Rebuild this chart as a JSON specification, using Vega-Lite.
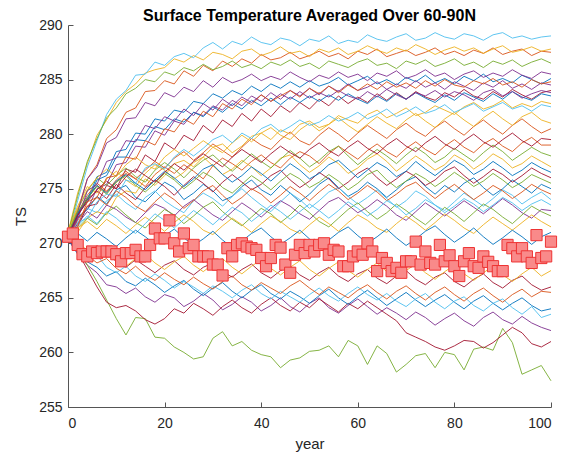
{
"$schema":"https://vega.github.io/schema/vega-lite/v6.json",
"width":483,"height":382,
"autosize":{"type":"none"},
"padding":{"left":68,"top":25,"right":25,"bottom":49},
"title":{"text":"Surface Temperature Averaged Over 60-90N","font":"Liberation Sans","fontSize":16,"fontWeight":"bold","color":"#000000","anchor":"middle","offset":-6},
"config":{"view":{"stroke":null},"axis":{"labelFont":"Liberation Sans","labelFontSize":14,"labelColor":"#262626","titleFont":"Liberation Sans","titleFontSize":15,"titleFontWeight":"normal","titleColor":"#262626","domainColor":"#555555","tickColor":"#555555","grid":false}},
"datasets":{
"mean":[{"x":0,"y":270.6},{"x":1,"y":270.9},{"x":2,"y":269.85},{"x":3,"y":269.0},{"x":4,"y":268.8},{"x":5,"y":269.25},{"x":6,"y":269.1},{"x":7,"y":269.25},{"x":8,"y":269.25},{"x":9,"y":269.25},{"x":10,"y":269.0},{"x":11,"y":268.35},{"x":12,"y":269.1},{"x":13,"y":269.1},{"x":14,"y":269.4},{"x":15,"y":268.8},{"x":16,"y":268.8},{"x":17,"y":269.85},{"x":18,"y":271.35},{"x":19,"y":270.45},{"x":20,"y":270.45},{"x":21,"y":272.1},{"x":22,"y":270.0},{"x":23,"y":269.25},{"x":24,"y":270.9},{"x":25,"y":269.55},{"x":26,"y":269.85},{"x":27,"y":268.8},{"x":28,"y":268.8},{"x":29,"y":268.8},{"x":30,"y":268.05},{"x":31,"y":268.05},{"x":32,"y":267.05},{"x":33,"y":269.55},{"x":34,"y":268.8},{"x":35,"y":269.85},{"x":36,"y":270.0},{"x":37,"y":269.7},{"x":38,"y":269.55},{"x":39,"y":269.4},{"x":40,"y":268.65},{"x":41,"y":267.9},{"x":42,"y":268.65},{"x":43,"y":269.85},{"x":44,"y":269.6},{"x":45,"y":268.05},{"x":46,"y":267.3},{"x":47,"y":268.95},{"x":48,"y":269.85},{"x":49,"y":269.1},{"x":50,"y":269.85},{"x":51,"y":269.25},{"x":52,"y":269.85},{"x":53,"y":270.0},{"x":54,"y":268.95},{"x":55,"y":269.4},{"x":56,"y":269.25},{"x":57,"y":267.9},{"x":58,"y":267.9},{"x":59,"y":268.8},{"x":60,"y":269.25},{"x":61,"y":268.95},{"x":62,"y":270.0},{"x":63,"y":269.25},{"x":64,"y":267.45},{"x":65,"y":268.65},{"x":66,"y":268.2},{"x":67,"y":267.45},{"x":68,"y":267.75},{"x":69,"y":267.3},{"x":70,"y":268.35},{"x":71,"y":268.35},{"x":72,"y":270.15},{"x":73,"y":268.05},{"x":74,"y":269.25},{"x":75,"y":268.2},{"x":76,"y":268.05},{"x":77,"y":269.85},{"x":78,"y":268.35},{"x":79,"y":268.9},{"x":80,"y":267.9},{"x":81,"y":267.0},{"x":82,"y":268.35},{"x":83,"y":269.1},{"x":84,"y":267.9},{"x":85,"y":267.75},{"x":86,"y":268.8},{"x":87,"y":268.3},{"x":88,"y":267.9},{"x":89,"y":267.45},{"x":90,"y":267.45},{"x":91,"y":269.85},{"x":92,"y":269.55},{"x":93,"y":268.8},{"x":94,"y":269.55},{"x":95,"y":268.8},{"x":96,"y":268.2},{"x":97,"y":270.75},{"x":98,"y":268.65},{"x":99,"y":268.8},{"x":100,"y":270.15}],
"runs":[
{"m":0,"x":0,"y":270.5},{"m":0,"x":2,"y":272.4},{"m":0,"x":4,"y":273.1},{"m":0,"x":6,"y":274.3},{"m":0,"x":8,"y":273.6},{"m":0,"x":10,"y":274.9},{"m":0,"x":12,"y":275.3},{"m":0,"x":14,"y":274.2},{"m":0,"x":16,"y":273.8},{"m":0,"x":18,"y":274.7},{"m":0,"x":20,"y":275.6},{"m":0,"x":22,"y":275.1},{"m":0,"x":24,"y":274.0},{"m":0,"x":26,"y":274.6},{"m":0,"x":28,"y":275.4},{"m":0,"x":30,"y":274.8},{"m":0,"x":32,"y":273.9},{"m":0,"x":34,"y":274.3},{"m":0,"x":36,"y":275.2},{"m":0,"x":38,"y":275.8},{"m":0,"x":40,"y":274.9},{"m":0,"x":42,"y":274.4},{"m":0,"x":44,"y":275.3},{"m":0,"x":46,"y":274.6},{"m":0,"x":48,"y":273.8},{"m":0,"x":50,"y":274.5},{"m":0,"x":52,"y":275.4},{"m":0,"x":54,"y":276.0},{"m":0,"x":56,"y":275.1},{"m":0,"x":58,"y":274.3},{"m":0,"x":60,"y":274.8},{"m":0,"x":62,"y":275.6},{"m":0,"x":64,"y":275.0},{"m":0,"x":66,"y":274.2},{"m":0,"x":68,"y":274.9},{"m":0,"x":70,"y":275.7},{"m":0,"x":72,"y":276.1},{"m":0,"x":74,"y":275.2},{"m":0,"x":76,"y":274.5},{"m":0,"x":78,"y":275.3},{"m":0,"x":80,"y":274.7},{"m":0,"x":82,"y":275.5},{"m":0,"x":84,"y":276.0},{"m":0,"x":86,"y":275.1},{"m":0,"x":88,"y":274.4},{"m":0,"x":90,"y":275.0},{"m":0,"x":92,"y":275.8},{"m":0,"x":94,"y":275.2},{"m":0,"x":96,"y":274.6},{"m":0,"x":98,"y":275.4},{"m":0,"x":100,"y":275.0},
{"m":1,"x":0,"y":270.5},{"m":1,"x":2,"y":273.0},{"m":1,"x":4,"y":275.9},{"m":1,"x":6,"y":277.2},{"m":1,"x":8,"y":279.6},{"m":1,"x":10,"y":280.4},{"m":1,"x":12,"y":282.0},{"m":1,"x":14,"y":282.4},{"m":1,"x":16,"y":283.9},{"m":1,"x":18,"y":284.0},{"m":1,"x":20,"y":284.9},{"m":1,"x":22,"y":284.6},{"m":1,"x":24,"y":285.8},{"m":1,"x":26,"y":285.3},{"m":1,"x":28,"y":286.3},{"m":1,"x":30,"y":285.8},{"m":1,"x":32,"y":286.7},{"m":1,"x":34,"y":286.2},{"m":1,"x":36,"y":286.9},{"m":1,"x":38,"y":286.5},{"m":1,"x":40,"y":287.3},{"m":1,"x":42,"y":286.8},{"m":1,"x":44,"y":287.0},{"m":1,"x":46,"y":287.5},{"m":1,"x":48,"y":286.9},{"m":1,"x":50,"y":287.2},{"m":1,"x":52,"y":287.6},{"m":1,"x":54,"y":287.1},{"m":1,"x":56,"y":287.4},{"m":1,"x":58,"y":286.9},{"m":1,"x":60,"y":287.6},{"m":1,"x":62,"y":287.3},{"m":1,"x":64,"y":287.8},{"m":1,"x":66,"y":287.1},{"m":1,"x":68,"y":287.4},{"m":1,"x":70,"y":287.7},{"m":1,"x":72,"y":287.2},{"m":1,"x":74,"y":287.5},{"m":1,"x":76,"y":287.9},{"m":1,"x":78,"y":287.3},{"m":1,"x":80,"y":287.6},{"m":1,"x":82,"y":287.2},{"m":1,"x":84,"y":287.7},{"m":1,"x":86,"y":287.4},{"m":1,"x":88,"y":287.9},{"m":1,"x":90,"y":287.3},{"m":1,"x":92,"y":287.6},{"m":1,"x":94,"y":287.8},{"m":1,"x":96,"y":287.2},{"m":1,"x":98,"y":287.6},{"m":1,"x":100,"y":287.5},
{"m":2,"x":0,"y":271.0},{"m":2,"x":2,"y":274.6},{"m":2,"x":4,"y":277.3},{"m":2,"x":6,"y":279.9},{"m":2,"x":8,"y":281.3},{"m":2,"x":10,"y":282.9},{"m":2,"x":12,"y":283.9},{"m":2,"x":14,"y":284.6},{"m":2,"x":16,"y":285.6},{"m":2,"x":18,"y":285.9},{"m":2,"x":20,"y":286.1},{"m":2,"x":22,"y":286.9},{"m":2,"x":24,"y":286.6},{"m":2,"x":26,"y":287.2},{"m":2,"x":28,"y":286.8},{"m":2,"x":30,"y":287.5},{"m":2,"x":32,"y":287.3},{"m":2,"x":34,"y":286.9},{"m":2,"x":36,"y":287.6},{"m":2,"x":38,"y":287.8},{"m":2,"x":40,"y":287.2},{"m":2,"x":42,"y":287.5},{"m":2,"x":44,"y":288.0},{"m":2,"x":46,"y":287.4},{"m":2,"x":48,"y":287.6},{"m":2,"x":50,"y":287.1},{"m":2,"x":52,"y":287.8},{"m":2,"x":54,"y":287.5},{"m":2,"x":56,"y":287.9},{"m":2,"x":58,"y":287.3},{"m":2,"x":60,"y":287.6},{"m":2,"x":62,"y":288.1},{"m":2,"x":64,"y":287.7},{"m":2,"x":66,"y":287.4},{"m":2,"x":68,"y":287.9},{"m":2,"x":70,"y":287.6},{"m":2,"x":72,"y":288.2},{"m":2,"x":74,"y":287.8},{"m":2,"x":76,"y":287.3},{"m":2,"x":78,"y":287.7},{"m":2,"x":80,"y":288.0},{"m":2,"x":82,"y":287.6},{"m":2,"x":84,"y":287.9},{"m":2,"x":86,"y":287.4},{"m":2,"x":88,"y":287.8},{"m":2,"x":90,"y":288.1},{"m":2,"x":92,"y":287.5},{"m":2,"x":94,"y":287.7},{"m":2,"x":96,"y":288.0},{"m":2,"x":98,"y":287.6},{"m":2,"x":100,"y":287.8},
{"m":3,"x":0,"y":270.3},{"m":3,"x":2,"y":269.1},{"m":3,"x":4,"y":268.0},{"m":3,"x":6,"y":267.3},{"m":3,"x":8,"y":266.2},{"m":3,"x":10,"y":266.0},{"m":3,"x":12,"y":265.4},{"m":3,"x":14,"y":265.9},{"m":3,"x":16,"y":265.1},{"m":3,"x":18,"y":264.6},{"m":3,"x":20,"y":265.3},{"m":3,"x":22,"y":265.0},{"m":3,"x":24,"y":264.2},{"m":3,"x":26,"y":264.7},{"m":3,"x":28,"y":265.4},{"m":3,"x":30,"y":264.8},{"m":3,"x":32,"y":263.9},{"m":3,"x":34,"y":264.4},{"m":3,"x":36,"y":265.1},{"m":3,"x":38,"y":264.6},{"m":3,"x":40,"y":263.8},{"m":3,"x":42,"y":264.3},{"m":3,"x":44,"y":265.0},{"m":3,"x":46,"y":264.2},{"m":3,"x":48,"y":263.7},{"m":3,"x":50,"y":264.5},{"m":3,"x":52,"y":265.0},{"m":3,"x":54,"y":264.1},{"m":3,"x":56,"y":263.6},{"m":3,"x":58,"y":264.3},{"m":3,"x":60,"y":264.9},{"m":3,"x":62,"y":264.2},{"m":3,"x":64,"y":263.5},{"m":3,"x":66,"y":264.1},{"m":3,"x":68,"y":263.6},{"m":3,"x":70,"y":263.0},{"m":3,"x":72,"y":263.7},{"m":3,"x":74,"y":263.2},{"m":3,"x":76,"y":262.5},{"m":3,"x":78,"y":263.1},{"m":3,"x":80,"y":263.6},{"m":3,"x":82,"y":262.9},{"m":3,"x":84,"y":262.4},{"m":3,"x":86,"y":263.2},{"m":3,"x":88,"y":263.7},{"m":3,"x":90,"y":263.0},{"m":3,"x":92,"y":262.6},{"m":3,"x":94,"y":263.3},{"m":3,"x":96,"y":262.7},{"m":3,"x":98,"y":262.3},{"m":3,"x":100,"y":262.0},
{"m":4,"x":0,"y":270.5},{"m":4,"x":2,"y":269.4},{"m":4,"x":4,"y":268.0},{"m":4,"x":6,"y":266.5},{"m":4,"x":8,"y":264.8},{"m":4,"x":10,"y":263.1},{"m":4,"x":12,"y":261.6},{"m":4,"x":14,"y":263.2},{"m":4,"x":16,"y":263.1},{"m":4,"x":18,"y":261.4},{"m":4,"x":20,"y":261.3},{"m":4,"x":22,"y":260.5},{"m":4,"x":24,"y":260.0},{"m":4,"x":26,"y":259.4},{"m":4,"x":28,"y":259.6},{"m":4,"x":30,"y":261.3},{"m":4,"x":32,"y":261.9},{"m":4,"x":34,"y":260.6},{"m":4,"x":36,"y":261.0},{"m":4,"x":38,"y":260.2},{"m":4,"x":40,"y":259.8},{"m":4,"x":42,"y":259.6},{"m":4,"x":44,"y":258.6},{"m":4,"x":46,"y":259.3},{"m":4,"x":48,"y":259.5},{"m":4,"x":50,"y":260.1},{"m":4,"x":52,"y":260.2},{"m":4,"x":54,"y":260.6},{"m":4,"x":56,"y":259.6},{"m":4,"x":58,"y":261.1},{"m":4,"x":60,"y":260.6},{"m":4,"x":62,"y":258.9},{"m":4,"x":64,"y":260.6},{"m":4,"x":66,"y":259.9},{"m":4,"x":68,"y":258.2},{"m":4,"x":70,"y":258.9},{"m":4,"x":72,"y":259.7},{"m":4,"x":74,"y":259.9},{"m":4,"x":76,"y":258.6},{"m":4,"x":78,"y":260.0},{"m":4,"x":80,"y":259.8},{"m":4,"x":82,"y":258.4},{"m":4,"x":84,"y":260.3},{"m":4,"x":86,"y":260.5},{"m":4,"x":88,"y":260.2},{"m":4,"x":90,"y":262.2},{"m":4,"x":92,"y":260.9},{"m":4,"x":94,"y":258.0},{"m":4,"x":96,"y":258.4},{"m":4,"x":98,"y":258.8},{"m":4,"x":100,"y":257.4},
{"m":5,"x":0,"y":270.7},{"m":5,"x":2,"y":273.9},{"m":5,"x":4,"y":277.0},{"m":5,"x":6,"y":279.4},{"m":5,"x":8,"y":281.8},{"m":5,"x":10,"y":283.2},{"m":5,"x":12,"y":284.0},{"m":5,"x":14,"y":285.4},{"m":5,"x":16,"y":285.5},{"m":5,"x":18,"y":286.6},{"m":5,"x":20,"y":286.3},{"m":5,"x":22,"y":287.1},{"m":5,"x":24,"y":287.4},{"m":5,"x":26,"y":287.0},{"m":5,"x":28,"y":287.9},{"m":5,"x":30,"y":288.4},{"m":5,"x":32,"y":287.8},{"m":5,"x":34,"y":288.5},{"m":5,"x":36,"y":288.2},{"m":5,"x":38,"y":288.9},{"m":5,"x":40,"y":288.4},{"m":5,"x":42,"y":288.2},{"m":5,"x":44,"y":288.8},{"m":5,"x":46,"y":288.6},{"m":5,"x":48,"y":288.1},{"m":5,"x":50,"y":288.7},{"m":5,"x":52,"y":288.5},{"m":5,"x":54,"y":289.0},{"m":5,"x":56,"y":288.3},{"m":5,"x":58,"y":288.6},{"m":5,"x":60,"y":288.4},{"m":5,"x":62,"y":289.1},{"m":5,"x":64,"y":288.7},{"m":5,"x":66,"y":288.5},{"m":5,"x":68,"y":288.9},{"m":5,"x":70,"y":289.2},{"m":5,"x":72,"y":288.6},{"m":5,"x":74,"y":288.8},{"m":5,"x":76,"y":289.3},{"m":5,"x":78,"y":288.9},{"m":5,"x":80,"y":288.7},{"m":5,"x":82,"y":289.2},{"m":5,"x":84,"y":289.0},{"m":5,"x":86,"y":288.6},{"m":5,"x":88,"y":289.1},{"m":5,"x":90,"y":289.3},{"m":5,"x":92,"y":288.8},{"m":5,"x":94,"y":289.0},{"m":5,"x":96,"y":288.7},{"m":5,"x":98,"y":288.9},{"m":5,"x":100,"y":289.0},
{"m":6,"x":0,"y":270.6},{"m":6,"x":2,"y":269.2},{"m":6,"x":4,"y":267.6},{"m":6,"x":6,"y":266.0},{"m":6,"x":8,"y":264.6},{"m":6,"x":10,"y":264.1},{"m":6,"x":12,"y":264.3},{"m":6,"x":14,"y":263.8},{"m":6,"x":16,"y":263.0},{"m":6,"x":18,"y":262.6},{"m":6,"x":20,"y":263.1},{"m":6,"x":22,"y":264.0},{"m":6,"x":24,"y":263.6},{"m":6,"x":26,"y":264.5},{"m":6,"x":28,"y":264.0},{"m":6,"x":30,"y":263.4},{"m":6,"x":32,"y":264.2},{"m":6,"x":34,"y":264.8},{"m":6,"x":36,"y":264.1},{"m":6,"x":38,"y":263.6},{"m":6,"x":40,"y":264.4},{"m":6,"x":42,"y":265.0},{"m":6,"x":44,"y":264.3},{"m":6,"x":46,"y":263.8},{"m":6,"x":48,"y":264.6},{"m":6,"x":50,"y":264.1},{"m":6,"x":52,"y":264.9},{"m":6,"x":54,"y":264.3},{"m":6,"x":56,"y":263.7},{"m":6,"x":58,"y":264.5},{"m":6,"x":60,"y":264.0},{"m":6,"x":62,"y":264.7},{"m":6,"x":64,"y":264.1},{"m":6,"x":66,"y":263.5},{"m":6,"x":68,"y":262.9},{"m":6,"x":70,"y":261.8},{"m":6,"x":72,"y":261.4},{"m":6,"x":74,"y":261.0},{"m":6,"x":76,"y":260.5},{"m":6,"x":78,"y":260.2},{"m":6,"x":80,"y":260.6},{"m":6,"x":82,"y":261.1},{"m":6,"x":84,"y":261.0},{"m":6,"x":86,"y":260.4},{"m":6,"x":88,"y":260.9},{"m":6,"x":90,"y":261.6},{"m":6,"x":92,"y":262.3},{"m":6,"x":94,"y":261.8},{"m":6,"x":96,"y":260.8},{"m":6,"x":98,"y":260.5},{"m":6,"x":100,"y":261.0},
{"m":7,"x":0,"y":270.6},{"m":7,"x":2,"y":272.8},{"m":7,"x":4,"y":274.0},{"m":7,"x":6,"y":276.1},{"m":7,"x":8,"y":276.5},{"m":7,"x":10,"y":278.4},{"m":7,"x":12,"y":278.6},{"m":7,"x":14,"y":280.1},{"m":7,"x":16,"y":280.0},{"m":7,"x":18,"y":281.4},{"m":7,"x":20,"y":281.2},{"m":7,"x":22,"y":282.2},{"m":7,"x":24,"y":282.0},{"m":7,"x":26,"y":283.0},{"m":7,"x":28,"y":282.8},{"m":7,"x":30,"y":283.7},{"m":7,"x":32,"y":283.3},{"m":7,"x":34,"y":284.0},{"m":7,"x":36,"y":283.6},{"m":7,"x":38,"y":284.4},{"m":7,"x":40,"y":283.9},{"m":7,"x":42,"y":284.6},{"m":7,"x":44,"y":284.2},{"m":7,"x":46,"y":284.8},{"m":7,"x":48,"y":284.3},{"m":7,"x":50,"y":284.9},{"m":7,"x":52,"y":284.4},{"m":7,"x":54,"y":284.7},{"m":7,"x":56,"y":285.2},{"m":7,"x":58,"y":284.5},{"m":7,"x":60,"y":284.9},{"m":7,"x":62,"y":285.3},{"m":7,"x":64,"y":284.6},{"m":7,"x":66,"y":285.0},{"m":7,"x":68,"y":284.5},{"m":7,"x":70,"y":285.2},{"m":7,"x":72,"y":284.8},{"m":7,"x":74,"y":285.4},{"m":7,"x":76,"y":284.7},{"m":7,"x":78,"y":285.1},{"m":7,"x":80,"y":284.6},{"m":7,"x":82,"y":285.3},{"m":7,"x":84,"y":284.9},{"m":7,"x":86,"y":285.5},{"m":7,"x":88,"y":284.8},{"m":7,"x":90,"y":285.1},{"m":7,"x":92,"y":284.7},{"m":7,"x":94,"y":285.4},{"m":7,"x":96,"y":285.0},{"m":7,"x":98,"y":284.6},{"m":7,"x":100,"y":285.1},
{"m":8,"x":0,"y":270.9},{"m":8,"x":2,"y":272.8},{"m":8,"x":4,"y":274.4},{"m":8,"x":6,"y":275.5},{"m":8,"x":8,"y":274.8},{"m":8,"x":10,"y":275.6},{"m":8,"x":12,"y":276.4},{"m":8,"x":14,"y":275.9},{"m":8,"x":16,"y":275.2},{"m":8,"x":18,"y":276.3},{"m":8,"x":20,"y":277.0},{"m":8,"x":22,"y":276.4},{"m":8,"x":24,"y":277.2},{"m":8,"x":26,"y":276.6},{"m":8,"x":28,"y":275.9},{"m":8,"x":30,"y":277.1},{"m":8,"x":32,"y":277.8},{"m":8,"x":34,"y":277.3},{"m":8,"x":36,"y":276.7},{"m":8,"x":38,"y":277.5},{"m":8,"x":40,"y":278.1},{"m":8,"x":42,"y":277.4},{"m":8,"x":44,"y":276.9},{"m":8,"x":46,"y":277.8},{"m":8,"x":48,"y":278.4},{"m":8,"x":50,"y":278.0},{"m":8,"x":52,"y":277.3},{"m":8,"x":54,"y":278.2},{"m":8,"x":56,"y":278.9},{"m":8,"x":58,"y":278.3},{"m":8,"x":60,"y":277.7},{"m":8,"x":62,"y":278.5},{"m":8,"x":64,"y":279.1},{"m":8,"x":66,"y":278.4},{"m":8,"x":68,"y":277.9},{"m":8,"x":70,"y":278.7},{"m":8,"x":72,"y":279.3},{"m":8,"x":74,"y":278.6},{"m":8,"x":76,"y":278.1},{"m":8,"x":78,"y":278.9},{"m":8,"x":80,"y":279.5},{"m":8,"x":82,"y":278.8},{"m":8,"x":84,"y":278.3},{"m":8,"x":86,"y":279.1},{"m":8,"x":88,"y":279.6},{"m":8,"x":90,"y":278.9},{"m":8,"x":92,"y":278.4},{"m":8,"x":94,"y":279.2},{"m":8,"x":96,"y":279.7},{"m":8,"x":98,"y":279.0},{"m":8,"x":100,"y":279.0},
{"m":9,"x":0,"y":271.2},{"m":9,"x":2,"y":273.4},{"m":9,"x":4,"y":275.2},{"m":9,"x":6,"y":274.6},{"m":9,"x":8,"y":275.9},{"m":9,"x":10,"y":276.6},{"m":9,"x":12,"y":275.8},{"m":9,"x":14,"y":275.2},{"m":9,"x":16,"y":276.4},{"m":9,"x":18,"y":277.2},{"m":9,"x":20,"y":276.7},{"m":9,"x":22,"y":275.9},{"m":9,"x":24,"y":276.5},{"m":9,"x":26,"y":277.4},{"m":9,"x":28,"y":277.9},{"m":9,"x":30,"y":277.1},{"m":9,"x":32,"y":276.3},{"m":9,"x":34,"y":276.8},{"m":9,"x":36,"y":277.6},{"m":9,"x":38,"y":277.0},{"m":9,"x":40,"y":276.2},{"m":9,"x":42,"y":276.9},{"m":9,"x":44,"y":277.8},{"m":9,"x":46,"y":278.1},{"m":9,"x":48,"y":277.2},{"m":9,"x":50,"y":276.5},{"m":9,"x":52,"y":277.1},{"m":9,"x":54,"y":277.9},{"m":9,"x":56,"y":277.3},{"m":9,"x":58,"y":276.4},{"m":9,"x":60,"y":276.9},{"m":9,"x":62,"y":277.7},{"m":9,"x":64,"y":278.2},{"m":9,"x":66,"y":277.5},{"m":9,"x":68,"y":276.6},{"m":9,"x":70,"y":277.3},{"m":9,"x":72,"y":278.0},{"m":9,"x":74,"y":277.4},{"m":9,"x":76,"y":276.7},{"m":9,"x":78,"y":277.2},{"m":9,"x":80,"y":278.1},{"m":9,"x":82,"y":277.6},{"m":9,"x":84,"y":276.8},{"m":9,"x":86,"y":277.4},{"m":9,"x":88,"y":278.2},{"m":9,"x":90,"y":277.7},{"m":9,"x":92,"y":276.9},{"m":9,"x":94,"y":277.3},{"m":9,"x":96,"y":278.0},{"m":9,"x":98,"y":277.5},{"m":9,"x":100,"y":277.0},
{"m":10,"x":0,"y":270.3},{"m":10,"x":2,"y":272.3},{"m":10,"x":4,"y":273.1},{"m":10,"x":6,"y":275.0},{"m":10,"x":8,"y":275.4},{"m":10,"x":10,"y":277.2},{"m":10,"x":12,"y":277.4},{"m":10,"x":14,"y":278.9},{"m":10,"x":16,"y":278.8},{"m":10,"x":18,"y":280.3},{"m":10,"x":20,"y":279.9},{"m":10,"x":22,"y":281.2},{"m":10,"x":24,"y":280.9},{"m":10,"x":26,"y":282.0},{"m":10,"x":28,"y":281.7},{"m":10,"x":30,"y":282.6},{"m":10,"x":32,"y":282.2},{"m":10,"x":34,"y":283.1},{"m":10,"x":36,"y":282.6},{"m":10,"x":38,"y":283.5},{"m":10,"x":40,"y":283.0},{"m":10,"x":42,"y":283.8},{"m":10,"x":44,"y":283.2},{"m":10,"x":46,"y":284.0},{"m":10,"x":48,"y":283.5},{"m":10,"x":50,"y":284.2},{"m":10,"x":52,"y":283.6},{"m":10,"x":54,"y":284.4},{"m":10,"x":56,"y":283.9},{"m":10,"x":58,"y":284.6},{"m":10,"x":60,"y":284.0},{"m":10,"x":62,"y":284.3},{"m":10,"x":64,"y":284.8},{"m":10,"x":66,"y":284.1},{"m":10,"x":68,"y":284.6},{"m":10,"x":70,"y":284.2},{"m":10,"x":72,"y":284.9},{"m":10,"x":74,"y":284.3},{"m":10,"x":76,"y":284.7},{"m":10,"x":78,"y":284.1},{"m":10,"x":80,"y":284.8},{"m":10,"x":82,"y":284.4},{"m":10,"x":84,"y":284.0},{"m":10,"x":86,"y":284.7},{"m":10,"x":88,"y":284.3},{"m":10,"x":90,"y":284.9},{"m":10,"x":92,"y":284.2},{"m":10,"x":94,"y":284.6},{"m":10,"x":96,"y":284.1},{"m":10,"x":98,"y":284.7},{"m":10,"x":100,"y":284.5},
{"m":11,"x":0,"y":270.9},{"m":11,"x":2,"y":274.3},{"m":11,"x":4,"y":277.5},{"m":11,"x":6,"y":279.6},{"m":11,"x":8,"y":281.5},{"m":11,"x":10,"y":282.4},{"m":11,"x":12,"y":283.7},{"m":11,"x":14,"y":284.2},{"m":11,"x":16,"y":285.0},{"m":11,"x":18,"y":284.8},{"m":11,"x":20,"y":285.7},{"m":11,"x":22,"y":285.4},{"m":11,"x":24,"y":286.1},{"m":11,"x":26,"y":285.8},{"m":11,"x":28,"y":286.4},{"m":11,"x":30,"y":285.9},{"m":11,"x":32,"y":286.2},{"m":11,"x":34,"y":286.7},{"m":11,"x":36,"y":286.1},{"m":11,"x":38,"y":286.4},{"m":11,"x":40,"y":286.0},{"m":11,"x":42,"y":286.6},{"m":11,"x":44,"y":286.3},{"m":11,"x":46,"y":286.8},{"m":11,"x":48,"y":286.2},{"m":11,"x":50,"y":286.5},{"m":11,"x":52,"y":286.0},{"m":11,"x":54,"y":286.7},{"m":11,"x":56,"y":286.4},{"m":11,"x":58,"y":286.1},{"m":11,"x":60,"y":286.6},{"m":11,"x":62,"y":286.9},{"m":11,"x":64,"y":286.3},{"m":11,"x":66,"y":286.5},{"m":11,"x":68,"y":286.0},{"m":11,"x":70,"y":286.7},{"m":11,"x":72,"y":286.4},{"m":11,"x":74,"y":286.8},{"m":11,"x":76,"y":286.2},{"m":11,"x":78,"y":286.5},{"m":11,"x":80,"y":286.9},{"m":11,"x":82,"y":286.3},{"m":11,"x":84,"y":286.6},{"m":11,"x":86,"y":286.1},{"m":11,"x":88,"y":286.7},{"m":11,"x":90,"y":286.4},{"m":11,"x":92,"y":286.8},{"m":11,"x":94,"y":286.2},{"m":11,"x":96,"y":286.6},{"m":11,"x":98,"y":286.9},{"m":11,"x":100,"y":286.5},
{"m":12,"x":0,"y":270.2},{"m":12,"x":2,"y":271.9},{"m":12,"x":4,"y":273.2},{"m":12,"x":6,"y":272.8},{"m":12,"x":8,"y":273.9},{"m":12,"x":10,"y":274.5},{"m":12,"x":12,"y":273.7},{"m":12,"x":14,"y":273.1},{"m":12,"x":16,"y":274.2},{"m":12,"x":18,"y":274.8},{"m":12,"x":20,"y":273.9},{"m":12,"x":22,"y":273.3},{"m":12,"x":24,"y":272.8},{"m":12,"x":26,"y":273.9},{"m":12,"x":28,"y":274.6},{"m":12,"x":30,"y":274.1},{"m":12,"x":32,"y":273.4},{"m":12,"x":34,"y":274.3},{"m":12,"x":36,"y":275.0},{"m":12,"x":38,"y":274.2},{"m":12,"x":40,"y":273.5},{"m":12,"x":42,"y":272.9},{"m":12,"x":44,"y":273.8},{"m":12,"x":46,"y":274.6},{"m":12,"x":48,"y":274.0},{"m":12,"x":50,"y":273.2},{"m":12,"x":52,"y":273.9},{"m":12,"x":54,"y":274.7},{"m":12,"x":56,"y":275.1},{"m":12,"x":58,"y":274.3},{"m":12,"x":60,"y":273.6},{"m":12,"x":62,"y":274.2},{"m":12,"x":64,"y":274.9},{"m":12,"x":66,"y":274.1},{"m":12,"x":68,"y":273.3},{"m":12,"x":70,"y":273.9},{"m":12,"x":72,"y":274.8},{"m":12,"x":74,"y":274.3},{"m":12,"x":76,"y":273.5},{"m":12,"x":78,"y":273.0},{"m":12,"x":80,"y":273.8},{"m":12,"x":82,"y":274.6},{"m":12,"x":84,"y":274.0},{"m":12,"x":86,"y":273.4},{"m":12,"x":88,"y":274.1},{"m":12,"x":90,"y":274.9},{"m":12,"x":92,"y":274.4},{"m":12,"x":94,"y":273.6},{"m":12,"x":96,"y":274.2},{"m":12,"x":98,"y":274.7},{"m":12,"x":100,"y":274.0},
{"m":13,"x":0,"y":270.7},{"m":13,"x":2,"y":271.5},{"m":13,"x":4,"y":273.4},{"m":13,"x":6,"y":273.6},{"m":13,"x":8,"y":275.3},{"m":13,"x":10,"y":275.0},{"m":13,"x":12,"y":276.8},{"m":13,"x":14,"y":276.5},{"m":13,"x":16,"y":278.1},{"m":13,"x":18,"y":277.5},{"m":13,"x":20,"y":279.2},{"m":13,"x":22,"y":278.6},{"m":13,"x":24,"y":279.9},{"m":13,"x":26,"y":279.4},{"m":13,"x":28,"y":280.8},{"m":13,"x":30,"y":280.1},{"m":13,"x":32,"y":281.3},{"m":13,"x":34,"y":280.7},{"m":13,"x":36,"y":281.9},{"m":13,"x":38,"y":281.2},{"m":13,"x":40,"y":282.3},{"m":13,"x":42,"y":281.6},{"m":13,"x":44,"y":282.6},{"m":13,"x":46,"y":282.0},{"m":13,"x":48,"y":282.9},{"m":13,"x":50,"y":282.3},{"m":13,"x":52,"y":283.2},{"m":13,"x":54,"y":282.6},{"m":13,"x":56,"y":283.5},{"m":13,"x":58,"y":282.8},{"m":13,"x":60,"y":283.4},{"m":13,"x":62,"y":282.9},{"m":13,"x":64,"y":283.7},{"m":13,"x":66,"y":283.1},{"m":13,"x":68,"y":283.8},{"m":13,"x":70,"y":283.2},{"m":13,"x":72,"y":283.9},{"m":13,"x":74,"y":283.4},{"m":13,"x":76,"y":283.1},{"m":13,"x":78,"y":283.8},{"m":13,"x":80,"y":283.4},{"m":13,"x":82,"y":284.1},{"m":13,"x":84,"y":283.5},{"m":13,"x":86,"y":283.2},{"m":13,"x":88,"y":283.9},{"m":13,"x":90,"y":283.4},{"m":13,"x":92,"y":284.1},{"m":13,"x":94,"y":283.6},{"m":13,"x":96,"y":283.2},{"m":13,"x":98,"y":283.8},{"m":13,"x":100,"y":284.0},
{"m":14,"x":0,"y":270.4},{"m":14,"x":2,"y":269.0},{"m":14,"x":4,"y":268.3},{"m":14,"x":6,"y":267.8},{"m":14,"x":8,"y":267.0},{"m":14,"x":10,"y":267.4},{"m":14,"x":12,"y":266.5},{"m":14,"x":14,"y":266.1},{"m":14,"x":16,"y":266.8},{"m":14,"x":18,"y":266.2},{"m":14,"x":20,"y":265.5},{"m":14,"x":22,"y":266.1},{"m":14,"x":24,"y":266.6},{"m":14,"x":26,"y":265.8},{"m":14,"x":28,"y":265.2},{"m":14,"x":30,"y":265.9},{"m":14,"x":32,"y":266.4},{"m":14,"x":34,"y":265.6},{"m":14,"x":36,"y":265.0},{"m":14,"x":38,"y":265.7},{"m":14,"x":40,"y":266.2},{"m":14,"x":42,"y":265.4},{"m":14,"x":44,"y":264.9},{"m":14,"x":46,"y":265.6},{"m":14,"x":48,"y":265.1},{"m":14,"x":50,"y":264.5},{"m":14,"x":52,"y":265.2},{"m":14,"x":54,"y":265.8},{"m":14,"x":56,"y":265.0},{"m":14,"x":58,"y":264.4},{"m":14,"x":60,"y":265.1},{"m":14,"x":62,"y":265.7},{"m":14,"x":64,"y":265.0},{"m":14,"x":66,"y":264.3},{"m":14,"x":68,"y":264.9},{"m":14,"x":70,"y":265.5},{"m":14,"x":72,"y":264.8},{"m":14,"x":74,"y":264.2},{"m":14,"x":76,"y":264.8},{"m":14,"x":78,"y":265.3},{"m":14,"x":80,"y":264.6},{"m":14,"x":82,"y":264.0},{"m":14,"x":84,"y":264.7},{"m":14,"x":86,"y":265.2},{"m":14,"x":88,"y":264.5},{"m":14,"x":90,"y":263.9},{"m":14,"x":92,"y":264.5},{"m":14,"x":94,"y":265.0},{"m":14,"x":96,"y":264.3},{"m":14,"x":98,"y":263.8},{"m":14,"x":100,"y":264.0},
{"m":15,"x":0,"y":270.7},{"m":15,"x":2,"y":272.6},{"m":15,"x":4,"y":274.1},{"m":15,"x":6,"y":275.3},{"m":15,"x":8,"y":274.7},{"m":15,"x":10,"y":275.8},{"m":15,"x":12,"y":276.6},{"m":15,"x":14,"y":275.9},{"m":15,"x":16,"y":276.7},{"m":15,"x":18,"y":277.5},{"m":15,"x":20,"y":276.9},{"m":15,"x":22,"y":277.8},{"m":15,"x":24,"y":278.4},{"m":15,"x":26,"y":277.6},{"m":15,"x":28,"y":278.3},{"m":15,"x":30,"y":279.1},{"m":15,"x":32,"y":278.5},{"m":15,"x":34,"y":277.9},{"m":15,"x":36,"y":278.8},{"m":15,"x":38,"y":279.6},{"m":15,"x":40,"y":279.0},{"m":15,"x":42,"y":278.6},{"m":15,"x":44,"y":279.5},{"m":15,"x":46,"y":280.2},{"m":15,"x":48,"y":279.4},{"m":15,"x":50,"y":279.0},{"m":15,"x":52,"y":279.9},{"m":15,"x":54,"y":280.6},{"m":15,"x":56,"y":280.0},{"m":15,"x":58,"y":279.3},{"m":15,"x":60,"y":280.1},{"m":15,"x":62,"y":280.8},{"m":15,"x":64,"y":280.2},{"m":15,"x":66,"y":279.6},{"m":15,"x":68,"y":280.4},{"m":15,"x":70,"y":281.0},{"m":15,"x":72,"y":280.3},{"m":15,"x":74,"y":279.8},{"m":15,"x":76,"y":280.6},{"m":15,"x":78,"y":281.2},{"m":15,"x":80,"y":280.5},{"m":15,"x":82,"y":279.9},{"m":15,"x":84,"y":280.7},{"m":15,"x":86,"y":281.3},{"m":15,"x":88,"y":280.6},{"m":15,"x":90,"y":280.0},{"m":15,"x":92,"y":280.8},{"m":15,"x":94,"y":281.4},{"m":15,"x":96,"y":280.7},{"m":15,"x":98,"y":280.1},{"m":15,"x":100,"y":280.5},
{"m":16,"x":0,"y":270.4},{"m":16,"x":2,"y":271.0},{"m":16,"x":4,"y":272.3},{"m":16,"x":6,"y":272.9},{"m":16,"x":8,"y":272.6},{"m":16,"x":10,"y":274.2},{"m":16,"x":12,"y":274.8},{"m":16,"x":14,"y":274.6},{"m":16,"x":16,"y":275.9},{"m":16,"x":18,"y":275.3},{"m":16,"x":20,"y":276.2},{"m":16,"x":22,"y":277.3},{"m":16,"x":24,"y":277.6},{"m":16,"x":26,"y":277.0},{"m":16,"x":28,"y":277.9},{"m":16,"x":30,"y":278.8},{"m":16,"x":32,"y":279.1},{"m":16,"x":34,"y":278.3},{"m":16,"x":36,"y":278.9},{"m":16,"x":38,"y":279.8},{"m":16,"x":40,"y":280.1},{"m":16,"x":42,"y":279.5},{"m":16,"x":44,"y":280.4},{"m":16,"x":46,"y":280.0},{"m":16,"x":48,"y":280.9},{"m":16,"x":50,"y":281.2},{"m":16,"x":52,"y":280.6},{"m":16,"x":54,"y":280.9},{"m":16,"x":56,"y":281.7},{"m":16,"x":58,"y":281.3},{"m":16,"x":60,"y":281.0},{"m":16,"x":62,"y":281.8},{"m":16,"x":64,"y":282.2},{"m":16,"x":66,"y":281.5},{"m":16,"x":68,"y":281.9},{"m":16,"x":70,"y":282.4},{"m":16,"x":72,"y":281.7},{"m":16,"x":74,"y":282.0},{"m":16,"x":76,"y":282.6},{"m":16,"x":78,"y":282.2},{"m":16,"x":80,"y":281.8},{"m":16,"x":82,"y":282.5},{"m":16,"x":84,"y":282.9},{"m":16,"x":86,"y":282.3},{"m":16,"x":88,"y":282.6},{"m":16,"x":90,"y":283.1},{"m":16,"x":92,"y":282.4},{"m":16,"x":94,"y":282.8},{"m":16,"x":96,"y":282.5},{"m":16,"x":98,"y":283.0},{"m":16,"x":100,"y":282.8},
{"m":17,"x":0,"y":270.4},{"m":17,"x":2,"y":271.8},{"m":17,"x":4,"y":272.9},{"m":17,"x":6,"y":272.3},{"m":17,"x":8,"y":273.5},{"m":17,"x":10,"y":273.1},{"m":17,"x":12,"y":272.4},{"m":17,"x":14,"y":271.9},{"m":17,"x":16,"y":272.8},{"m":17,"x":18,"y":273.6},{"m":17,"x":20,"y":273.2},{"m":17,"x":22,"y":272.5},{"m":17,"x":24,"y":273.4},{"m":17,"x":26,"y":274.0},{"m":17,"x":28,"y":273.3},{"m":17,"x":30,"y":272.6},{"m":17,"x":32,"y":272.1},{"m":17,"x":34,"y":272.9},{"m":17,"x":36,"y":273.7},{"m":17,"x":38,"y":273.1},{"m":17,"x":40,"y":272.4},{"m":17,"x":42,"y":273.2},{"m":17,"x":44,"y":273.9},{"m":17,"x":46,"y":273.4},{"m":17,"x":48,"y":272.7},{"m":17,"x":50,"y":272.2},{"m":17,"x":52,"y":273.0},{"m":17,"x":54,"y":273.8},{"m":17,"x":56,"y":274.2},{"m":17,"x":58,"y":273.5},{"m":17,"x":60,"y":272.8},{"m":17,"x":62,"y":273.3},{"m":17,"x":64,"y":274.0},{"m":17,"x":66,"y":273.4},{"m":17,"x":68,"y":272.6},{"m":17,"x":70,"y":272.1},{"m":17,"x":72,"y":272.9},{"m":17,"x":74,"y":273.7},{"m":17,"x":76,"y":273.1},{"m":17,"x":78,"y":272.5},{"m":17,"x":80,"y":273.2},{"m":17,"x":82,"y":273.9},{"m":17,"x":84,"y":273.3},{"m":17,"x":86,"y":272.7},{"m":17,"x":88,"y":273.4},{"m":17,"x":90,"y":274.1},{"m":17,"x":92,"y":273.5},{"m":17,"x":94,"y":272.8},{"m":17,"x":96,"y":272.3},{"m":17,"x":98,"y":273.1},{"m":17,"x":100,"y":273.0},
{"m":18,"x":0,"y":271.0},{"m":18,"x":2,"y":273.1},{"m":18,"x":4,"y":274.8},{"m":18,"x":6,"y":276.0},{"m":18,"x":8,"y":275.3},{"m":18,"x":10,"y":276.2},{"m":18,"x":12,"y":276.9},{"m":18,"x":14,"y":276.1},{"m":18,"x":16,"y":275.6},{"m":18,"x":18,"y":276.7},{"m":18,"x":20,"y":277.4},{"m":18,"x":22,"y":276.8},{"m":18,"x":24,"y":276.0},{"m":18,"x":26,"y":276.9},{"m":18,"x":28,"y":277.6},{"m":18,"x":30,"y":278.1},{"m":18,"x":32,"y":277.3},{"m":18,"x":34,"y":276.6},{"m":18,"x":36,"y":277.4},{"m":18,"x":38,"y":278.2},{"m":18,"x":40,"y":277.5},{"m":18,"x":42,"y":276.9},{"m":18,"x":44,"y":277.7},{"m":18,"x":46,"y":278.5},{"m":18,"x":48,"y":277.8},{"m":18,"x":50,"y":277.0},{"m":18,"x":52,"y":277.6},{"m":18,"x":54,"y":278.4},{"m":18,"x":56,"y":278.9},{"m":18,"x":58,"y":278.0},{"m":18,"x":60,"y":277.2},{"m":18,"x":62,"y":277.9},{"m":18,"x":64,"y":278.6},{"m":18,"x":66,"y":278.0},{"m":18,"x":68,"y":277.3},{"m":18,"x":70,"y":278.1},{"m":18,"x":72,"y":278.8},{"m":18,"x":74,"y":278.2},{"m":18,"x":76,"y":277.4},{"m":18,"x":78,"y":277.9},{"m":18,"x":80,"y":278.7},{"m":18,"x":82,"y":278.1},{"m":18,"x":84,"y":277.5},{"m":18,"x":86,"y":278.3},{"m":18,"x":88,"y":279.0},{"m":18,"x":90,"y":278.4},{"m":18,"x":92,"y":277.6},{"m":18,"x":94,"y":278.2},{"m":18,"x":96,"y":278.8},{"m":18,"x":98,"y":278.3},{"m":18,"x":100,"y":278.0},
{"m":19,"x":0,"y":270.7},{"m":19,"x":2,"y":269.5},{"m":19,"x":4,"y":268.6},{"m":19,"x":6,"y":268.9},{"m":19,"x":8,"y":267.8},{"m":19,"x":10,"y":267.3},{"m":19,"x":12,"y":267.9},{"m":19,"x":14,"y":267.0},{"m":19,"x":16,"y":266.5},{"m":19,"x":18,"y":267.2},{"m":19,"x":20,"y":266.6},{"m":19,"x":22,"y":265.9},{"m":19,"x":24,"y":266.5},{"m":19,"x":26,"y":266.0},{"m":19,"x":28,"y":265.4},{"m":19,"x":30,"y":266.1},{"m":19,"x":32,"y":265.6},{"m":19,"x":34,"y":265.0},{"m":19,"x":36,"y":265.7},{"m":19,"x":38,"y":266.2},{"m":19,"x":40,"y":265.4},{"m":19,"x":42,"y":264.9},{"m":19,"x":44,"y":265.6},{"m":19,"x":46,"y":265.1},{"m":19,"x":48,"y":264.6},{"m":19,"x":50,"y":265.3},{"m":19,"x":52,"y":265.9},{"m":19,"x":54,"y":265.2},{"m":19,"x":56,"y":264.7},{"m":19,"x":58,"y":265.4},{"m":19,"x":60,"y":266.0},{"m":19,"x":62,"y":265.3},{"m":19,"x":64,"y":264.8},{"m":19,"x":66,"y":265.4},{"m":19,"x":68,"y":264.7},{"m":19,"x":70,"y":264.2},{"m":19,"x":72,"y":264.9},{"m":19,"x":74,"y":265.4},{"m":19,"x":76,"y":264.6},{"m":19,"x":78,"y":264.0},{"m":19,"x":80,"y":264.7},{"m":19,"x":82,"y":265.1},{"m":19,"x":84,"y":264.3},{"m":19,"x":86,"y":263.8},{"m":19,"x":88,"y":264.5},{"m":19,"x":90,"y":264.9},{"m":19,"x":92,"y":264.1},{"m":19,"x":94,"y":263.5},{"m":19,"x":96,"y":264.2},{"m":19,"x":98,"y":263.2},{"m":19,"x":100,"y":263.5},
{"m":20,"x":0,"y":270.6},{"m":20,"x":2,"y":272.5},{"m":20,"x":4,"y":274.0},{"m":20,"x":6,"y":274.8},{"m":20,"x":8,"y":274.1},{"m":20,"x":10,"y":275.4},{"m":20,"x":12,"y":274.6},{"m":20,"x":14,"y":274.0},{"m":20,"x":16,"y":275.1},{"m":20,"x":18,"y":275.8},{"m":20,"x":20,"y":275.2},{"m":20,"x":22,"y":274.4},{"m":20,"x":24,"y":275.3},{"m":20,"x":26,"y":276.1},{"m":20,"x":28,"y":275.5},{"m":20,"x":30,"y":274.7},{"m":20,"x":32,"y":275.6},{"m":20,"x":34,"y":276.3},{"m":20,"x":36,"y":275.6},{"m":20,"x":38,"y":274.9},{"m":20,"x":40,"y":275.4},{"m":20,"x":42,"y":276.2},{"m":20,"x":44,"y":276.7},{"m":20,"x":46,"y":275.8},{"m":20,"x":48,"y":275.1},{"m":20,"x":50,"y":275.7},{"m":20,"x":52,"y":276.5},{"m":20,"x":54,"y":275.9},{"m":20,"x":56,"y":275.0},{"m":20,"x":58,"y":275.6},{"m":20,"x":60,"y":276.4},{"m":20,"x":62,"y":276.9},{"m":20,"x":64,"y":276.0},{"m":20,"x":66,"y":275.3},{"m":20,"x":68,"y":275.9},{"m":20,"x":70,"y":276.6},{"m":20,"x":72,"y":276.1},{"m":20,"x":74,"y":275.3},{"m":20,"x":76,"y":275.8},{"m":20,"x":78,"y":276.6},{"m":20,"x":80,"y":277.0},{"m":20,"x":82,"y":276.2},{"m":20,"x":84,"y":275.5},{"m":20,"x":86,"y":276.1},{"m":20,"x":88,"y":276.8},{"m":20,"x":90,"y":276.3},{"m":20,"x":92,"y":275.6},{"m":20,"x":94,"y":276.2},{"m":20,"x":96,"y":276.9},{"m":20,"x":98,"y":276.4},{"m":20,"x":100,"y":276.0},
{"m":21,"x":0,"y":270.6},{"m":21,"x":2,"y":272.7},{"m":21,"x":4,"y":273.8},{"m":21,"x":6,"y":275.8},{"m":21,"x":8,"y":276.2},{"m":21,"x":10,"y":277.9},{"m":21,"x":12,"y":277.9},{"m":21,"x":14,"y":279.5},{"m":21,"x":16,"y":279.4},{"m":21,"x":18,"y":280.7},{"m":21,"x":20,"y":280.4},{"m":21,"x":22,"y":281.4},{"m":21,"x":24,"y":281.1},{"m":21,"x":26,"y":282.0},{"m":21,"x":28,"y":281.6},{"m":21,"x":30,"y":282.5},{"m":21,"x":32,"y":282.0},{"m":21,"x":34,"y":282.8},{"m":21,"x":36,"y":282.3},{"m":21,"x":38,"y":283.1},{"m":21,"x":40,"y":282.6},{"m":21,"x":42,"y":283.3},{"m":21,"x":44,"y":282.7},{"m":21,"x":46,"y":283.4},{"m":21,"x":48,"y":282.9},{"m":21,"x":50,"y":283.5},{"m":21,"x":52,"y":283.0},{"m":21,"x":54,"y":283.6},{"m":21,"x":56,"y":283.1},{"m":21,"x":58,"y":283.7},{"m":21,"x":60,"y":283.2},{"m":21,"x":62,"y":282.8},{"m":21,"x":64,"y":283.5},{"m":21,"x":66,"y":283.0},{"m":21,"x":68,"y":283.7},{"m":21,"x":70,"y":283.2},{"m":21,"x":72,"y":283.8},{"m":21,"x":74,"y":283.3},{"m":21,"x":76,"y":282.9},{"m":21,"x":78,"y":283.6},{"m":21,"x":80,"y":283.1},{"m":21,"x":82,"y":283.8},{"m":21,"x":84,"y":283.4},{"m":21,"x":86,"y":283.0},{"m":21,"x":88,"y":283.7},{"m":21,"x":90,"y":283.2},{"m":21,"x":92,"y":283.9},{"m":21,"x":94,"y":283.4},{"m":21,"x":96,"y":283.1},{"m":21,"x":98,"y":283.7},{"m":21,"x":100,"y":283.5},
{"m":22,"x":0,"y":270.5},{"m":22,"x":2,"y":269.6},{"m":22,"x":4,"y":268.9},{"m":22,"x":6,"y":268.2},{"m":22,"x":8,"y":268.6},{"m":22,"x":10,"y":267.7},{"m":22,"x":12,"y":267.2},{"m":22,"x":14,"y":267.9},{"m":22,"x":16,"y":267.1},{"m":22,"x":18,"y":266.6},{"m":22,"x":20,"y":267.3},{"m":22,"x":22,"y":266.7},{"m":22,"x":24,"y":266.2},{"m":22,"x":26,"y":266.9},{"m":22,"x":28,"y":266.3},{"m":22,"x":30,"y":265.8},{"m":22,"x":32,"y":266.5},{"m":22,"x":34,"y":267.0},{"m":22,"x":36,"y":266.2},{"m":22,"x":38,"y":265.7},{"m":22,"x":40,"y":266.4},{"m":22,"x":42,"y":265.9},{"m":22,"x":44,"y":265.4},{"m":22,"x":46,"y":266.1},{"m":22,"x":48,"y":266.6},{"m":22,"x":50,"y":265.9},{"m":22,"x":52,"y":265.3},{"m":22,"x":54,"y":266.0},{"m":22,"x":56,"y":265.5},{"m":22,"x":58,"y":265.0},{"m":22,"x":60,"y":265.7},{"m":22,"x":62,"y":266.2},{"m":22,"x":64,"y":265.5},{"m":22,"x":66,"y":264.9},{"m":22,"x":68,"y":265.6},{"m":22,"x":70,"y":266.1},{"m":22,"x":72,"y":265.4},{"m":22,"x":74,"y":264.8},{"m":22,"x":76,"y":265.5},{"m":22,"x":78,"y":266.0},{"m":22,"x":80,"y":265.3},{"m":22,"x":82,"y":264.7},{"m":22,"x":84,"y":265.4},{"m":22,"x":86,"y":265.9},{"m":22,"x":88,"y":265.2},{"m":22,"x":90,"y":264.6},{"m":22,"x":92,"y":265.3},{"m":22,"x":94,"y":265.8},{"m":22,"x":96,"y":265.1},{"m":22,"x":98,"y":265.6},{"m":22,"x":100,"y":265.5},
{"m":23,"x":0,"y":271.1},{"m":23,"x":2,"y":273.2},{"m":23,"x":4,"y":274.9},{"m":23,"x":6,"y":276.0},{"m":23,"x":8,"y":276.8},{"m":23,"x":10,"y":276.1},{"m":23,"x":12,"y":277.2},{"m":23,"x":14,"y":277.9},{"m":23,"x":16,"y":277.2},{"m":23,"x":18,"y":276.8},{"m":23,"x":20,"y":277.9},{"m":23,"x":22,"y":278.6},{"m":23,"x":24,"y":278.0},{"m":23,"x":26,"y":278.7},{"m":23,"x":28,"y":279.4},{"m":23,"x":30,"y":278.8},{"m":23,"x":32,"y":278.3},{"m":23,"x":34,"y":279.2},{"m":23,"x":36,"y":279.9},{"m":23,"x":38,"y":279.3},{"m":23,"x":40,"y":280.1},{"m":23,"x":42,"y":280.6},{"m":23,"x":44,"y":279.9},{"m":23,"x":46,"y":279.5},{"m":23,"x":48,"y":280.4},{"m":23,"x":50,"y":281.0},{"m":23,"x":52,"y":280.3},{"m":23,"x":54,"y":280.9},{"m":23,"x":56,"y":281.5},{"m":23,"x":58,"y":280.8},{"m":23,"x":60,"y":280.2},{"m":23,"x":62,"y":280.9},{"m":23,"x":64,"y":281.6},{"m":23,"x":66,"y":281.0},{"m":23,"x":68,"y":280.5},{"m":23,"x":70,"y":281.3},{"m":23,"x":72,"y":281.9},{"m":23,"x":74,"y":281.2},{"m":23,"x":76,"y":280.6},{"m":23,"x":78,"y":281.4},{"m":23,"x":80,"y":282.0},{"m":23,"x":82,"y":281.3},{"m":23,"x":84,"y":280.7},{"m":23,"x":86,"y":281.5},{"m":23,"x":88,"y":282.1},{"m":23,"x":90,"y":281.4},{"m":23,"x":92,"y":280.8},{"m":23,"x":94,"y":281.6},{"m":23,"x":96,"y":282.0},{"m":23,"x":98,"y":281.3},{"m":23,"x":100,"y":281.0},
{"m":24,"x":0,"y":270.5},{"m":24,"x":2,"y":272.8},{"m":24,"x":4,"y":275.9},{"m":24,"x":6,"y":277.0},{"m":24,"x":8,"y":279.2},{"m":24,"x":10,"y":279.7},{"m":24,"x":12,"y":281.4},{"m":24,"x":14,"y":281.5},{"m":24,"x":16,"y":282.9},{"m":24,"x":18,"y":282.6},{"m":24,"x":20,"y":283.8},{"m":24,"x":22,"y":283.4},{"m":24,"x":24,"y":284.3},{"m":24,"x":26,"y":283.9},{"m":24,"x":28,"y":284.9},{"m":24,"x":30,"y":284.3},{"m":24,"x":32,"y":285.2},{"m":24,"x":34,"y":284.7},{"m":24,"x":36,"y":285.0},{"m":24,"x":38,"y":285.5},{"m":24,"x":40,"y":284.9},{"m":24,"x":42,"y":285.3},{"m":24,"x":44,"y":285.0},{"m":24,"x":46,"y":285.7},{"m":24,"x":48,"y":285.2},{"m":24,"x":50,"y":284.8},{"m":24,"x":52,"y":285.4},{"m":24,"x":54,"y":285.1},{"m":24,"x":56,"y":285.7},{"m":24,"x":58,"y":285.2},{"m":24,"x":60,"y":285.5},{"m":24,"x":62,"y":284.9},{"m":24,"x":64,"y":285.6},{"m":24,"x":66,"y":285.3},{"m":24,"x":68,"y":285.8},{"m":24,"x":70,"y":285.1},{"m":24,"x":72,"y":285.4},{"m":24,"x":74,"y":285.9},{"m":24,"x":76,"y":285.3},{"m":24,"x":78,"y":285.6},{"m":24,"x":80,"y":285.0},{"m":24,"x":82,"y":285.5},{"m":24,"x":84,"y":285.8},{"m":24,"x":86,"y":285.2},{"m":24,"x":88,"y":285.6},{"m":24,"x":90,"y":285.3},{"m":24,"x":92,"y":285.9},{"m":24,"x":94,"y":285.4},{"m":24,"x":96,"y":285.1},{"m":24,"x":98,"y":285.7},{"m":24,"x":100,"y":285.5},
{"m":25,"x":0,"y":270.3},{"m":25,"x":2,"y":271.4},{"m":25,"x":4,"y":272.3},{"m":25,"x":6,"y":271.7},{"m":25,"x":8,"y":272.8},{"m":25,"x":10,"y":273.4},{"m":25,"x":12,"y":272.6},{"m":25,"x":14,"y":271.9},{"m":25,"x":16,"y":271.4},{"m":25,"x":18,"y":272.3},{"m":25,"x":20,"y":273.1},{"m":25,"x":22,"y":272.6},{"m":25,"x":24,"y":271.8},{"m":25,"x":26,"y":272.5},{"m":25,"x":28,"y":273.3},{"m":25,"x":30,"y":273.8},{"m":25,"x":32,"y":272.9},{"m":25,"x":34,"y":272.2},{"m":25,"x":36,"y":271.6},{"m":25,"x":38,"y":272.4},{"m":25,"x":40,"y":273.2},{"m":25,"x":42,"y":272.7},{"m":25,"x":44,"y":271.9},{"m":25,"x":46,"y":272.6},{"m":25,"x":48,"y":273.5},{"m":25,"x":50,"y":272.8},{"m":25,"x":52,"y":272.0},{"m":25,"x":54,"y":271.5},{"m":25,"x":56,"y":272.3},{"m":25,"x":58,"y":273.1},{"m":25,"x":60,"y":273.7},{"m":25,"x":62,"y":272.9},{"m":25,"x":64,"y":272.2},{"m":25,"x":66,"y":272.8},{"m":25,"x":68,"y":273.6},{"m":25,"x":70,"y":273.0},{"m":25,"x":72,"y":272.3},{"m":25,"x":74,"y":271.7},{"m":25,"x":76,"y":272.5},{"m":25,"x":78,"y":273.3},{"m":25,"x":80,"y":272.7},{"m":25,"x":82,"y":272.0},{"m":25,"x":84,"y":272.8},{"m":25,"x":86,"y":273.6},{"m":25,"x":88,"y":273.1},{"m":25,"x":90,"y":272.4},{"m":25,"x":92,"y":271.8},{"m":25,"x":94,"y":272.6},{"m":25,"x":96,"y":273.4},{"m":25,"x":98,"y":272.9},{"m":25,"x":100,"y":272.5},
{"m":26,"x":0,"y":270.8},{"m":26,"x":2,"y":271.9},{"m":26,"x":4,"y":272.3},{"m":26,"x":6,"y":273.8},{"m":26,"x":8,"y":274.5},{"m":26,"x":10,"y":274.3},{"m":26,"x":12,"y":275.8},{"m":26,"x":14,"y":275.5},{"m":26,"x":16,"y":276.9},{"m":26,"x":18,"y":277.3},{"m":26,"x":20,"y":276.8},{"m":26,"x":22,"y":277.9},{"m":26,"x":24,"y":278.6},{"m":26,"x":26,"y":278.0},{"m":26,"x":28,"y":278.7},{"m":26,"x":30,"y":279.5},{"m":26,"x":32,"y":279.9},{"m":26,"x":34,"y":279.2},{"m":26,"x":36,"y":280.1},{"m":26,"x":38,"y":279.6},{"m":26,"x":40,"y":280.5},{"m":26,"x":42,"y":280.9},{"m":26,"x":44,"y":280.2},{"m":26,"x":46,"y":280.7},{"m":26,"x":48,"y":281.3},{"m":26,"x":50,"y":280.8},{"m":26,"x":52,"y":281.1},{"m":26,"x":54,"y":281.7},{"m":26,"x":56,"y":281.2},{"m":26,"x":58,"y":281.5},{"m":26,"x":60,"y":282.0},{"m":26,"x":62,"y":281.4},{"m":26,"x":64,"y":281.8},{"m":26,"x":66,"y":282.3},{"m":26,"x":68,"y":281.6},{"m":26,"x":70,"y":282.0},{"m":26,"x":72,"y":282.5},{"m":26,"x":74,"y":281.9},{"m":26,"x":76,"y":282.2},{"m":26,"x":78,"y":282.7},{"m":26,"x":80,"y":282.0},{"m":26,"x":82,"y":282.4},{"m":26,"x":84,"y":282.8},{"m":26,"x":86,"y":282.1},{"m":26,"x":88,"y":282.5},{"m":26,"x":90,"y":282.9},{"m":26,"x":92,"y":282.3},{"m":26,"x":94,"y":282.6},{"m":26,"x":96,"y":282.1},{"m":26,"x":98,"y":282.7},{"m":26,"x":100,"y":282.5},
{"m":27,"x":0,"y":270.6},{"m":27,"x":2,"y":269.9},{"m":27,"x":4,"y":269.0},{"m":27,"x":6,"y":268.6},{"m":27,"x":8,"y":269.2},{"m":27,"x":10,"y":268.3},{"m":27,"x":12,"y":267.8},{"m":27,"x":14,"y":268.5},{"m":27,"x":16,"y":267.9},{"m":27,"x":18,"y":267.3},{"m":27,"x":20,"y":268.0},{"m":27,"x":22,"y":268.4},{"m":27,"x":24,"y":267.6},{"m":27,"x":26,"y":267.1},{"m":27,"x":28,"y":267.8},{"m":27,"x":30,"y":268.2},{"m":27,"x":32,"y":267.4},{"m":27,"x":34,"y":266.9},{"m":27,"x":36,"y":267.6},{"m":27,"x":38,"y":268.1},{"m":27,"x":40,"y":267.3},{"m":27,"x":42,"y":266.8},{"m":27,"x":44,"y":267.5},{"m":27,"x":46,"y":267.9},{"m":27,"x":48,"y":267.1},{"m":27,"x":50,"y":266.6},{"m":27,"x":52,"y":267.3},{"m":27,"x":54,"y":267.8},{"m":27,"x":56,"y":267.0},{"m":27,"x":58,"y":266.5},{"m":27,"x":60,"y":267.2},{"m":27,"x":62,"y":267.6},{"m":27,"x":64,"y":266.8},{"m":27,"x":66,"y":266.3},{"m":27,"x":68,"y":267.0},{"m":27,"x":70,"y":267.5},{"m":27,"x":72,"y":266.7},{"m":27,"x":74,"y":266.2},{"m":27,"x":76,"y":266.9},{"m":27,"x":78,"y":267.3},{"m":27,"x":80,"y":266.5},{"m":27,"x":82,"y":266.0},{"m":27,"x":84,"y":266.7},{"m":27,"x":86,"y":267.2},{"m":27,"x":88,"y":266.4},{"m":27,"x":90,"y":265.9},{"m":27,"x":92,"y":266.6},{"m":27,"x":94,"y":267.0},{"m":27,"x":96,"y":266.2},{"m":27,"x":98,"y":265.7},{"m":27,"x":100,"y":266.0},
{"m":28,"x":0,"y":270.8},{"m":28,"x":2,"y":272.7},{"m":28,"x":4,"y":274.2},{"m":28,"x":6,"y":275.3},{"m":28,"x":8,"y":274.6},{"m":28,"x":10,"y":275.7},{"m":28,"x":12,"y":276.3},{"m":28,"x":14,"y":275.5},{"m":28,"x":16,"y":274.9},{"m":28,"x":18,"y":275.8},{"m":28,"x":20,"y":276.6},{"m":28,"x":22,"y":276.0},{"m":28,"x":24,"y":275.2},{"m":28,"x":26,"y":275.9},{"m":28,"x":28,"y":276.8},{"m":28,"x":30,"y":277.2},{"m":28,"x":32,"y":276.3},{"m":28,"x":34,"y":275.6},{"m":28,"x":36,"y":276.2},{"m":28,"x":38,"y":277.0},{"m":28,"x":40,"y":276.4},{"m":28,"x":42,"y":275.7},{"m":28,"x":44,"y":276.5},{"m":28,"x":46,"y":277.3},{"m":28,"x":48,"y":276.7},{"m":28,"x":50,"y":275.9},{"m":28,"x":52,"y":276.4},{"m":28,"x":54,"y":277.2},{"m":28,"x":56,"y":277.6},{"m":28,"x":58,"y":276.8},{"m":28,"x":60,"y":276.0},{"m":28,"x":62,"y":276.7},{"m":28,"x":64,"y":277.4},{"m":28,"x":66,"y":276.9},{"m":28,"x":68,"y":276.1},{"m":28,"x":70,"y":276.6},{"m":28,"x":72,"y":277.5},{"m":28,"x":74,"y":276.8},{"m":28,"x":76,"y":276.2},{"m":28,"x":78,"y":276.9},{"m":28,"x":80,"y":277.6},{"m":28,"x":82,"y":277.1},{"m":28,"x":84,"y":276.3},{"m":28,"x":86,"y":276.8},{"m":28,"x":88,"y":277.5},{"m":28,"x":90,"y":276.9},{"m":28,"x":92,"y":276.2},{"m":28,"x":94,"y":276.7},{"m":28,"x":96,"y":277.4},{"m":28,"x":98,"y":276.9},{"m":28,"x":100,"y":276.5},
{"m":29,"x":0,"y":270.5},{"m":29,"x":2,"y":272.1},{"m":29,"x":4,"y":273.4},{"m":29,"x":6,"y":274.2},{"m":29,"x":8,"y":273.5},{"m":29,"x":10,"y":274.8},{"m":29,"x":12,"y":274.2},{"m":29,"x":14,"y":273.4},{"m":29,"x":16,"y":272.9},{"m":29,"x":18,"y":273.8},{"m":29,"x":20,"y":274.6},{"m":29,"x":22,"y":274.0},{"m":29,"x":24,"y":273.2},{"m":29,"x":26,"y":273.9},{"m":29,"x":28,"y":274.8},{"m":29,"x":30,"y":275.3},{"m":29,"x":32,"y":274.4},{"m":29,"x":34,"y":273.6},{"m":29,"x":36,"y":274.2},{"m":29,"x":38,"y":275.0},{"m":29,"x":40,"y":274.5},{"m":29,"x":42,"y":273.7},{"m":29,"x":44,"y":274.4},{"m":29,"x":46,"y":275.2},{"m":29,"x":48,"y":274.6},{"m":29,"x":50,"y":273.9},{"m":29,"x":52,"y":274.7},{"m":29,"x":54,"y":275.4},{"m":29,"x":56,"y":274.8},{"m":29,"x":58,"y":274.0},{"m":29,"x":60,"y":274.6},{"m":29,"x":62,"y":275.3},{"m":29,"x":64,"y":274.7},{"m":29,"x":66,"y":273.9},{"m":29,"x":68,"y":274.5},{"m":29,"x":70,"y":275.2},{"m":29,"x":72,"y":275.6},{"m":29,"x":74,"y":274.8},{"m":29,"x":76,"y":274.1},{"m":29,"x":78,"y":274.8},{"m":29,"x":80,"y":275.4},{"m":29,"x":82,"y":274.7},{"m":29,"x":84,"y":274.0},{"m":29,"x":86,"y":274.6},{"m":29,"x":88,"y":275.3},{"m":29,"x":90,"y":274.8},{"m":29,"x":92,"y":274.1},{"m":29,"x":94,"y":274.7},{"m":29,"x":96,"y":275.4},{"m":29,"x":98,"y":274.9},{"m":29,"x":100,"y":274.5},
{"m":30,"x":0,"y":270.6},{"m":30,"x":2,"y":271.4},{"m":30,"x":4,"y":272.0},{"m":30,"x":6,"y":271.3},{"m":30,"x":8,"y":272.2},{"m":30,"x":10,"y":271.6},{"m":30,"x":12,"y":270.9},{"m":30,"x":14,"y":271.7},{"m":30,"x":16,"y":272.4},{"m":30,"x":18,"y":271.8},{"m":30,"x":20,"y":271.1},{"m":30,"x":22,"y":271.9},{"m":30,"x":24,"y":272.6},{"m":30,"x":26,"y":272.0},{"m":30,"x":28,"y":271.2},{"m":30,"x":30,"y":270.8},{"m":30,"x":32,"y":271.6},{"m":30,"x":34,"y":272.3},{"m":30,"x":36,"y":271.7},{"m":30,"x":38,"y":271.0},{"m":30,"x":40,"y":271.8},{"m":30,"x":42,"y":272.5},{"m":30,"x":44,"y":272.0},{"m":30,"x":46,"y":271.3},{"m":30,"x":48,"y":270.9},{"m":30,"x":50,"y":271.7},{"m":30,"x":52,"y":272.4},{"m":30,"x":54,"y":271.8},{"m":30,"x":56,"y":271.1},{"m":30,"x":58,"y":271.9},{"m":30,"x":60,"y":272.6},{"m":30,"x":62,"y":272.1},{"m":30,"x":64,"y":271.4},{"m":30,"x":66,"y":271.0},{"m":30,"x":68,"y":271.8},{"m":30,"x":70,"y":272.5},{"m":30,"x":72,"y":271.9},{"m":30,"x":74,"y":271.2},{"m":30,"x":76,"y":271.9},{"m":30,"x":78,"y":272.7},{"m":30,"x":80,"y":272.1},{"m":30,"x":82,"y":271.4},{"m":30,"x":84,"y":270.9},{"m":30,"x":86,"y":271.7},{"m":30,"x":88,"y":272.4},{"m":30,"x":90,"y":271.8},{"m":30,"x":92,"y":271.2},{"m":30,"x":94,"y":271.9},{"m":30,"x":96,"y":272.6},{"m":30,"x":98,"y":272.0},{"m":30,"x":100,"y":271.5},
{"m":31,"x":0,"y":270.7},{"m":31,"x":2,"y":272.2},{"m":31,"x":4,"y":274.8},{"m":31,"x":6,"y":275.4},{"m":31,"x":8,"y":277.5},{"m":31,"x":10,"y":277.8},{"m":31,"x":12,"y":279.4},{"m":31,"x":14,"y":279.3},{"m":31,"x":16,"y":280.8},{"m":31,"x":18,"y":280.5},{"m":31,"x":20,"y":281.6},{"m":31,"x":22,"y":281.2},{"m":31,"x":24,"y":282.3},{"m":31,"x":26,"y":281.7},{"m":31,"x":28,"y":282.8},{"m":31,"x":30,"y":282.2},{"m":31,"x":32,"y":283.2},{"m":31,"x":34,"y":282.6},{"m":31,"x":36,"y":283.4},{"m":31,"x":38,"y":282.9},{"m":31,"x":40,"y":283.6},{"m":31,"x":42,"y":283.0},{"m":31,"x":44,"y":283.7},{"m":31,"x":46,"y":283.2},{"m":31,"x":48,"y":283.9},{"m":31,"x":50,"y":283.3},{"m":31,"x":52,"y":283.8},{"m":31,"x":54,"y":283.4},{"m":31,"x":56,"y":284.0},{"m":31,"x":58,"y":283.5},{"m":31,"x":60,"y":283.2},{"m":31,"x":62,"y":283.9},{"m":31,"x":64,"y":283.4},{"m":31,"x":66,"y":284.1},{"m":31,"x":68,"y":283.6},{"m":31,"x":70,"y":283.2},{"m":31,"x":72,"y":283.8},{"m":31,"x":74,"y":283.5},{"m":31,"x":76,"y":284.0},{"m":31,"x":78,"y":283.4},{"m":31,"x":80,"y":283.9},{"m":31,"x":82,"y":283.6},{"m":31,"x":84,"y":283.1},{"m":31,"x":86,"y":283.8},{"m":31,"x":88,"y":284.1},{"m":31,"x":90,"y":283.5},{"m":31,"x":92,"y":283.9},{"m":31,"x":94,"y":283.3},{"m":31,"x":96,"y":283.7},{"m":31,"x":98,"y":284.0},{"m":31,"x":100,"y":283.8},
{"m":32,"x":0,"y":270.9},{"m":32,"x":2,"y":272.9},{"m":32,"x":4,"y":274.1},{"m":32,"x":6,"y":275.2},{"m":32,"x":8,"y":274.5},{"m":32,"x":10,"y":275.6},{"m":32,"x":12,"y":276.2},{"m":32,"x":14,"y":275.3},{"m":32,"x":16,"y":274.7},{"m":32,"x":18,"y":275.5},{"m":32,"x":20,"y":276.4},{"m":32,"x":22,"y":275.8},{"m":32,"x":24,"y":275.0},{"m":32,"x":26,"y":275.7},{"m":32,"x":28,"y":276.5},{"m":32,"x":30,"y":276.0},{"m":32,"x":32,"y":275.1},{"m":32,"x":34,"y":274.6},{"m":32,"x":36,"y":275.4},{"m":32,"x":38,"y":276.2},{"m":32,"x":40,"y":275.6},{"m":32,"x":42,"y":274.9},{"m":32,"x":44,"y":275.7},{"m":32,"x":46,"y":276.4},{"m":32,"x":48,"y":275.9},{"m":32,"x":50,"y":275.1},{"m":32,"x":52,"y":275.6},{"m":32,"x":54,"y":276.3},{"m":32,"x":56,"y":275.7},{"m":32,"x":58,"y":274.9},{"m":32,"x":60,"y":275.5},{"m":32,"x":62,"y":276.3},{"m":32,"x":64,"y":276.7},{"m":32,"x":66,"y":275.8},{"m":32,"x":68,"y":275.1},{"m":32,"x":70,"y":275.7},{"m":32,"x":72,"y":276.4},{"m":32,"x":74,"y":275.9},{"m":32,"x":76,"y":275.2},{"m":32,"x":78,"y":275.8},{"m":32,"x":80,"y":276.5},{"m":32,"x":82,"y":275.9},{"m":32,"x":84,"y":275.2},{"m":32,"x":86,"y":275.7},{"m":32,"x":88,"y":276.4},{"m":32,"x":90,"y":275.8},{"m":32,"x":92,"y":275.1},{"m":32,"x":94,"y":275.6},{"m":32,"x":96,"y":276.3},{"m":32,"x":98,"y":275.9},{"m":32,"x":100,"y":275.5},
{"m":33,"x":0,"y":270.4},{"m":33,"x":2,"y":271.6},{"m":33,"x":4,"y":272.5},{"m":33,"x":6,"y":271.8},{"m":33,"x":8,"y":272.9},{"m":33,"x":10,"y":272.3},{"m":33,"x":12,"y":271.5},{"m":33,"x":14,"y":270.9},{"m":33,"x":16,"y":271.8},{"m":33,"x":18,"y":272.7},{"m":33,"x":20,"y":272.1},{"m":33,"x":22,"y":271.4},{"m":33,"x":24,"y":272.2},{"m":33,"x":26,"y":273.0},{"m":33,"x":28,"y":272.4},{"m":33,"x":30,"y":271.7},{"m":33,"x":32,"y":272.5},{"m":33,"x":34,"y":273.3},{"m":33,"x":36,"y":272.8},{"m":33,"x":38,"y":272.0},{"m":33,"x":40,"y":272.7},{"m":33,"x":42,"y":273.5},{"m":33,"x":44,"y":272.9},{"m":33,"x":46,"y":272.2},{"m":33,"x":48,"y":272.9},{"m":33,"x":50,"y":273.6},{"m":33,"x":52,"y":273.0},{"m":33,"x":54,"y":272.3},{"m":33,"x":56,"y":273.0},{"m":33,"x":58,"y":273.8},{"m":33,"x":60,"y":273.2},{"m":33,"x":62,"y":272.5},{"m":33,"x":64,"y":273.1},{"m":33,"x":66,"y":273.9},{"m":33,"x":68,"y":273.4},{"m":33,"x":70,"y":272.6},{"m":33,"x":72,"y":273.2},{"m":33,"x":74,"y":274.0},{"m":33,"x":76,"y":273.5},{"m":33,"x":78,"y":272.8},{"m":33,"x":80,"y":273.4},{"m":33,"x":82,"y":274.1},{"m":33,"x":84,"y":273.6},{"m":33,"x":86,"y":272.9},{"m":33,"x":88,"y":273.5},{"m":33,"x":90,"y":274.2},{"m":33,"x":92,"y":273.7},{"m":33,"x":94,"y":273.0},{"m":33,"x":96,"y":273.6},{"m":33,"x":98,"y":274.0},{"m":33,"x":100,"y":273.5},
{"m":34,"x":0,"y":270.7},{"m":34,"x":2,"y":272.6},{"m":34,"x":4,"y":273.8},{"m":34,"x":6,"y":274.9},{"m":34,"x":8,"y":275.7},{"m":34,"x":10,"y":275.0},{"m":34,"x":12,"y":276.1},{"m":34,"x":14,"y":276.8},{"m":34,"x":16,"y":276.2},{"m":34,"x":18,"y":275.6},{"m":34,"x":20,"y":276.5},{"m":34,"x":22,"y":277.3},{"m":34,"x":24,"y":276.7},{"m":34,"x":26,"y":277.5},{"m":34,"x":28,"y":278.2},{"m":34,"x":30,"y":277.6},{"m":34,"x":32,"y":277.0},{"m":34,"x":34,"y":277.9},{"m":34,"x":36,"y":278.6},{"m":34,"x":38,"y":278.0},{"m":34,"x":40,"y":277.4},{"m":34,"x":42,"y":278.2},{"m":34,"x":44,"y":278.9},{"m":34,"x":46,"y":278.3},{"m":34,"x":48,"y":277.8},{"m":34,"x":50,"y":278.6},{"m":34,"x":52,"y":279.2},{"m":34,"x":54,"y":278.5},{"m":34,"x":56,"y":278.0},{"m":34,"x":58,"y":278.8},{"m":34,"x":60,"y":279.4},{"m":34,"x":62,"y":278.7},{"m":34,"x":64,"y":278.2},{"m":34,"x":66,"y":279.0},{"m":34,"x":68,"y":279.6},{"m":34,"x":70,"y":278.9},{"m":34,"x":72,"y":278.4},{"m":34,"x":74,"y":279.2},{"m":34,"x":76,"y":279.8},{"m":34,"x":78,"y":279.1},{"m":34,"x":80,"y":278.6},{"m":34,"x":82,"y":279.4},{"m":34,"x":84,"y":280.0},{"m":34,"x":86,"y":279.3},{"m":34,"x":88,"y":278.8},{"m":34,"x":90,"y":279.5},{"m":34,"x":92,"y":280.1},{"m":34,"x":94,"y":279.4},{"m":34,"x":96,"y":278.9},{"m":34,"x":98,"y":279.6},{"m":34,"x":100,"y":279.5},
{"m":35,"x":0,"y":270.5},{"m":35,"x":2,"y":270.9},{"m":35,"x":4,"y":270.2},{"m":35,"x":6,"y":271.0},{"m":35,"x":8,"y":270.4},{"m":35,"x":10,"y":269.7},{"m":35,"x":12,"y":270.5},{"m":35,"x":14,"y":271.2},{"m":35,"x":16,"y":270.6},{"m":35,"x":18,"y":269.9},{"m":35,"x":20,"y":270.7},{"m":35,"x":22,"y":271.3},{"m":35,"x":24,"y":270.5},{"m":35,"x":26,"y":269.8},{"m":35,"x":28,"y":270.4},{"m":35,"x":30,"y":271.1},{"m":35,"x":32,"y":270.3},{"m":35,"x":34,"y":269.6},{"m":35,"x":36,"y":270.2},{"m":35,"x":38,"y":270.9},{"m":35,"x":40,"y":271.4},{"m":35,"x":42,"y":270.6},{"m":35,"x":44,"y":269.9},{"m":35,"x":46,"y":270.5},{"m":35,"x":48,"y":271.2},{"m":35,"x":50,"y":270.4},{"m":35,"x":52,"y":269.7},{"m":35,"x":54,"y":270.3},{"m":35,"x":56,"y":271.0},{"m":35,"x":58,"y":271.5},{"m":35,"x":60,"y":270.7},{"m":35,"x":62,"y":270.0},{"m":35,"x":64,"y":270.6},{"m":35,"x":66,"y":271.3},{"m":35,"x":68,"y":270.5},{"m":35,"x":70,"y":269.8},{"m":35,"x":72,"y":270.4},{"m":35,"x":74,"y":271.1},{"m":35,"x":76,"y":271.6},{"m":35,"x":78,"y":270.8},{"m":35,"x":80,"y":270.1},{"m":35,"x":82,"y":270.7},{"m":35,"x":84,"y":271.4},{"m":35,"x":86,"y":270.6},{"m":35,"x":88,"y":269.9},{"m":35,"x":90,"y":270.5},{"m":35,"x":92,"y":271.2},{"m":35,"x":94,"y":270.6},{"m":35,"x":96,"y":269.9},{"m":35,"x":98,"y":270.6},{"m":35,"x":100,"y":271.0},
{"m":36,"x":0,"y":270.4},{"m":36,"x":2,"y":271.6},{"m":36,"x":4,"y":273.8},{"m":36,"x":6,"y":274.2},{"m":36,"x":8,"y":276.0},{"m":36,"x":10,"y":276.2},{"m":36,"x":12,"y":277.9},{"m":36,"x":14,"y":277.7},{"m":36,"x":16,"y":279.4},{"m":36,"x":18,"y":279.0},{"m":36,"x":20,"y":280.5},{"m":36,"x":22,"y":280.2},{"m":36,"x":24,"y":281.4},{"m":36,"x":26,"y":280.9},{"m":36,"x":28,"y":282.1},{"m":36,"x":30,"y":281.6},{"m":36,"x":32,"y":282.8},{"m":36,"x":34,"y":282.3},{"m":36,"x":36,"y":283.2},{"m":36,"x":38,"y":282.7},{"m":36,"x":40,"y":283.6},{"m":36,"x":42,"y":283.0},{"m":36,"x":44,"y":283.5},{"m":36,"x":46,"y":284.0},{"m":36,"x":48,"y":283.4},{"m":36,"x":50,"y":284.2},{"m":36,"x":52,"y":283.7},{"m":36,"x":54,"y":284.4},{"m":36,"x":56,"y":283.8},{"m":36,"x":58,"y":284.5},{"m":36,"x":60,"y":284.0},{"m":36,"x":62,"y":284.6},{"m":36,"x":64,"y":284.1},{"m":36,"x":66,"y":284.8},{"m":36,"x":68,"y":284.3},{"m":36,"x":70,"y":284.7},{"m":36,"x":72,"y":284.2},{"m":36,"x":74,"y":284.9},{"m":36,"x":76,"y":284.4},{"m":36,"x":78,"y":285.0},{"m":36,"x":80,"y":284.5},{"m":36,"x":82,"y":284.3},{"m":36,"x":84,"y":284.9},{"m":36,"x":86,"y":284.6},{"m":36,"x":88,"y":285.1},{"m":36,"x":90,"y":284.5},{"m":36,"x":92,"y":284.8},{"m":36,"x":94,"y":284.3},{"m":36,"x":96,"y":285.0},{"m":36,"x":98,"y":284.6},{"m":36,"x":100,"y":284.8},
{"m":37,"x":0,"y":270.8},{"m":37,"x":2,"y":270.0},{"m":37,"x":4,"y":269.4},{"m":37,"x":6,"y":268.7},{"m":37,"x":8,"y":269.1},{"m":37,"x":10,"y":268.4},{"m":37,"x":12,"y":267.9},{"m":37,"x":14,"y":268.6},{"m":37,"x":16,"y":269.0},{"m":37,"x":18,"y":268.2},{"m":37,"x":20,"y":267.6},{"m":37,"x":22,"y":268.3},{"m":37,"x":24,"y":268.8},{"m":37,"x":26,"y":268.0},{"m":37,"x":28,"y":267.4},{"m":37,"x":30,"y":268.1},{"m":37,"x":32,"y":268.6},{"m":37,"x":34,"y":267.8},{"m":37,"x":36,"y":267.2},{"m":37,"x":38,"y":267.9},{"m":37,"x":40,"y":268.5},{"m":37,"x":42,"y":267.7},{"m":37,"x":44,"y":267.1},{"m":37,"x":46,"y":267.8},{"m":37,"x":48,"y":268.4},{"m":37,"x":50,"y":267.6},{"m":37,"x":52,"y":267.0},{"m":37,"x":54,"y":267.7},{"m":37,"x":56,"y":268.3},{"m":37,"x":58,"y":267.5},{"m":37,"x":60,"y":266.9},{"m":37,"x":62,"y":267.6},{"m":37,"x":64,"y":268.2},{"m":37,"x":66,"y":267.4},{"m":37,"x":68,"y":266.8},{"m":37,"x":70,"y":267.5},{"m":37,"x":72,"y":268.1},{"m":37,"x":74,"y":267.3},{"m":37,"x":76,"y":266.7},{"m":37,"x":78,"y":267.4},{"m":37,"x":80,"y":268.0},{"m":37,"x":82,"y":267.2},{"m":37,"x":84,"y":266.6},{"m":37,"x":86,"y":267.3},{"m":37,"x":88,"y":267.9},{"m":37,"x":90,"y":267.1},{"m":37,"x":92,"y":266.5},{"m":37,"x":94,"y":267.2},{"m":37,"x":96,"y":267.8},{"m":37,"x":98,"y":267.0},{"m":37,"x":100,"y":267.5}
]},
"layer":[
{"data":{"name":"runs"},"mark":{"type":"line","strokeWidth":0.9},
"encoding":{
"x":{"field":"x","type":"quantitative","scale":{"domain":[0,100],"nice":false},"axis":{"title":"year","values":[0,20,40,60,80,100],"tickSize":-5,"labelPadding":14,"titlePadding":6}},
"y":{"field":"y","type":"quantitative","scale":{"domain":[255,290],"nice":false,"zero":false},"axis":{"title":"TS","values":[255,260,265,270,275,280,285,290],"tickSize":-5,"labelPadding":11,"titlePadding":10}},
"color":{"field":"m","type":"nominal","legend":null,"scale":{"domain":[0,1,2,3,4,5,6,7,8,9,10,11,12,13,14,15,16,17,18,19,20,21,22,23,24,25,26,27,28,29,30,31,32,33,34,35,36,37],"range":["#0072BD","#D95319","#EDB120","#7E2F8E","#77AC30","#4DBEEE","#A2142F"]}}}},
{"data":{"name":"mean"},"mark":{"type":"square","size":125,"filled":true,"fill":"#F98A8A","stroke":"#EE3333","strokeWidth":1,"opacity":1},
"encoding":{"x":{"field":"x","type":"quantitative"},"y":{"field":"y","type":"quantitative"}}}
]
}
